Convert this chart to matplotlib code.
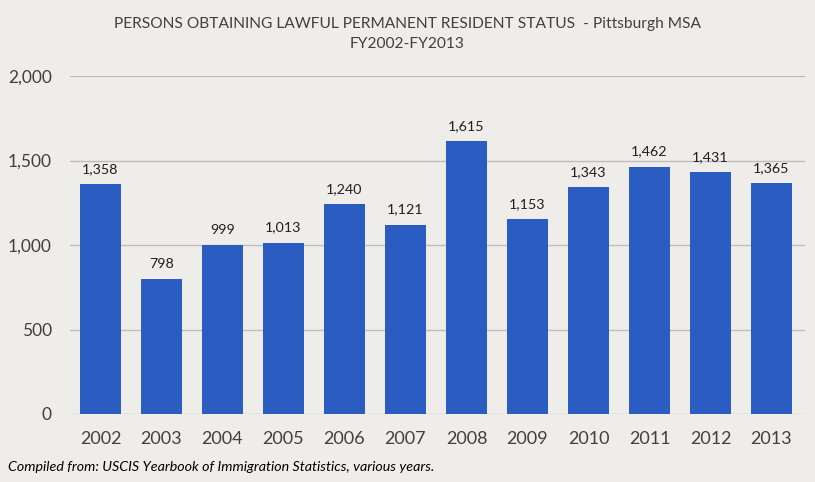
import matplotlib
matplotlib.use("Agg")
import matplotlib.pyplot as plt
from matplotlib.ticker import FuncFormatter

years = ["2002", "2003", "2004", "2005", "2006", "2007",
         "2008", "2009", "2010", "2011", "2012", "2013"]
persons = [1358, 798, 999, 1013, 1240, 1121, 1615, 1153, 1343, 1462, 1431, 1365]

title = "PERSONS OBTAINING LAWFUL PERMANENT RESIDENT STATUS  - Pittsburgh MSA\nFY2002-FY2013"
source = "Compiled from: USCIS Yearbook of Immigration Statistics, various years."

bg = "#eeede9"
bar_color = "#2b5cc2"
text_color = "#404040"

plt.rcParams["font.family"] = ["Lato", "DejaVu Sans"]

fig = plt.figure(figsize=(8.15, 4.82), dpi=100, facecolor=bg)
ax = fig.add_axes([70 / 815, 68 / 482, 735 / 815, 338 / 482], facecolor=bg)

x = range(len(years))
bars = ax.bar(x, persons, width=0.67, color=bar_color, zorder=3)
for xi, v in zip(x, persons):
    ax.text(xi, v + 55, f"{v:,}", ha="center", va="bottom",
            fontsize=10.3, color="#202020")

ax.set_xlim(-0.5, len(years) - 0.45)
ax.set_ylim(0, 2000)
ax.set_yticks([0, 500, 1000, 1500, 2000])
ax.yaxis.set_major_formatter(FuncFormatter(lambda v, _: f"{int(v):,}"))
ax.set_xticks(list(x))
ax.set_xticklabels(years)
ax.grid(axis="y", color="#bdbdbd", lw=1, zorder=0)
for s in ax.spines.values():
    s.set_visible(False)
ax.tick_params(length=0, labelsize=12.5, colors=text_color)
ax.tick_params(axis="x", pad=12, labelsize=13)
ax.tick_params(axis="y", pad=13)

fig.text(0.5, 1 - 34 / 482, title, ha="center", va="center",
         fontsize=11.2, color=text_color, linespacing=1.55)
fig.text(8 / 815, 1 - 467 / 482, source, ha="left", va="center",
         fontsize=10.3, style="italic", color="black")

fig.savefig("out.png", dpi=100, facecolor=bg)
